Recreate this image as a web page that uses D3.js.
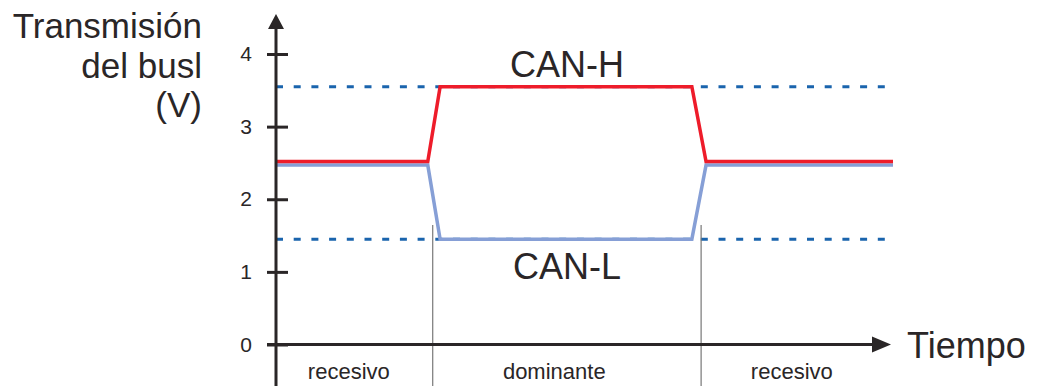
<!DOCTYPE html>
<html><head><meta charset="utf-8">
<script src="https://cdn.jsdelivr.net/npm/d3@7"></script>
<style>body{margin:0;background:#fff;}svg{display:block;font-family:"Liberation Sans",Arial,sans-serif;}</style>
</head><body>
<svg id="c" width="1040" height="386"></svg>
<script>
const yTicks = [0, 1, 2, 3, 4];
const canHTime = [0, 24.6, 26.6, 67.4, 69.7, 100];
const canHVolt = [2.52, 2.52, 3.55, 3.55, 2.52, 2.52];
const canLTime = [0, 24.6, 26.6, 67.4, 69.7, 100];
const canLVolt = [2.47, 2.47, 1.45, 1.45, 2.47, 2.47];
const refLevels = [3.55, 1.45];
const boundaries = [25.4, 68.9];
const stateLabels = ["recesivo", "dominante", "recesivo"];
const stateCenters = [11.8, 45.1, 83.6];
const titleLines = ["Transmisión", "del busl", "(V)"];

const ink = "#2a2627";
const svg = d3.select("#c");
const x = d3.scaleLinear().domain([0, 100]).range([276, 893]);
const y = d3.scaleLinear().domain([0, 4]).range([344.5, 54]);

// reference dashed levels
svg.selectAll(".ref").data(refLevels).enter().append("line")
  .attr("x1", x(0)).attr("x2", 890)
  .attr("y1", d => y(d)).attr("y2", d => y(d))
  .attr("stroke", "#1a64ad").attr("stroke-width", 3)
  .attr("stroke-dasharray", "7,10.7");

// boundaries
svg.selectAll(".bd").data(boundaries).enter().append("line")
  .attr("x1", d => x(d)).attr("x2", d => x(d))
  .attr("y1", 225).attr("y2", 386)
  .attr("stroke", "#777").attr("stroke-width", 1.2);

const line = d3.line().x(d => x(d[0])).y(d => y(d[1]));
svg.append("path").datum(canLTime.map((t, i) => [t, canLVolt[i]]))
  .attr("d", line).attr("fill", "none").attr("stroke", "#869fd6").attr("stroke-width", 3.5);
svg.append("path").datum(canHTime.map((t, i) => [t, canHVolt[i]]))
  .attr("d", line).attr("fill", "none").attr("stroke", "#ee1c2a").attr("stroke-width", 3.5);

// y axis
const ya = svg.append("g").attr("transform", `translate(${x(0)},0)`)
  .call(d3.axisLeft(y).tickValues(yTicks).tickFormat(d3.format("d")).tickSize(9).tickPadding(15));
ya.select(".domain").remove();
ya.selectAll(".tick line").attr("x1", -9).attr("x2", 12).attr("stroke", ink).attr("stroke-width", 3);
ya.selectAll(".tick text").attr("font-size", 21).attr("fill", ink)
  .attr("font-family", "Liberation Sans, Arial, sans-serif");

svg.append("line").attr("x1", x(0)).attr("x2", x(0)).attr("y1", 25).attr("y2", 386)
  .attr("stroke", ink).attr("stroke-width", 3);
svg.append("path").attr("d", `M${x(0)},14 L${x(0)-8},29 L${x(0)+8},29 Z`).attr("fill", ink);

// x axis
svg.append("line").attr("x1", x(0) - 9).attr("x2", 875).attr("y1", y(0)).attr("y2", y(0))
  .attr("stroke", ink).attr("stroke-width", 3);
svg.append("path").attr("d", `M891,${y(0)} L872,${y(0)-8} L872,${y(0)+8} Z`).attr("fill", ink);

svg.append("text").attr("x", 907).attr("y", y(0) + 13).attr("font-size", 36).attr("fill", ink).text("Tiempo");

// title
svg.selectAll(".tt").data(titleLines).enter().append("text")
  .attr("x", 202).attr("y", (d, i) => 38 + i * 39.5).attr("text-anchor", "end")
  .attr("font-size", 35).attr("fill", ink).text(d => d);

// state labels
svg.selectAll(".st").data(stateLabels).enter().append("text")
  .attr("x", (d, i) => x(stateCenters[i])).attr("y", 379).attr("text-anchor", "middle")
  .attr("font-size", 22).attr("fill", ink).text(d => d);

svg.append("text").attr("x", 567).attr("y", 77).attr("text-anchor", "middle").attr("font-size", 36).attr("fill", ink).text("CAN-H");
svg.append("text").attr("x", 567).attr("y", 279).attr("text-anchor", "middle").attr("font-size", 36).attr("fill", ink).text("CAN-L");
</script>
</body></html>
